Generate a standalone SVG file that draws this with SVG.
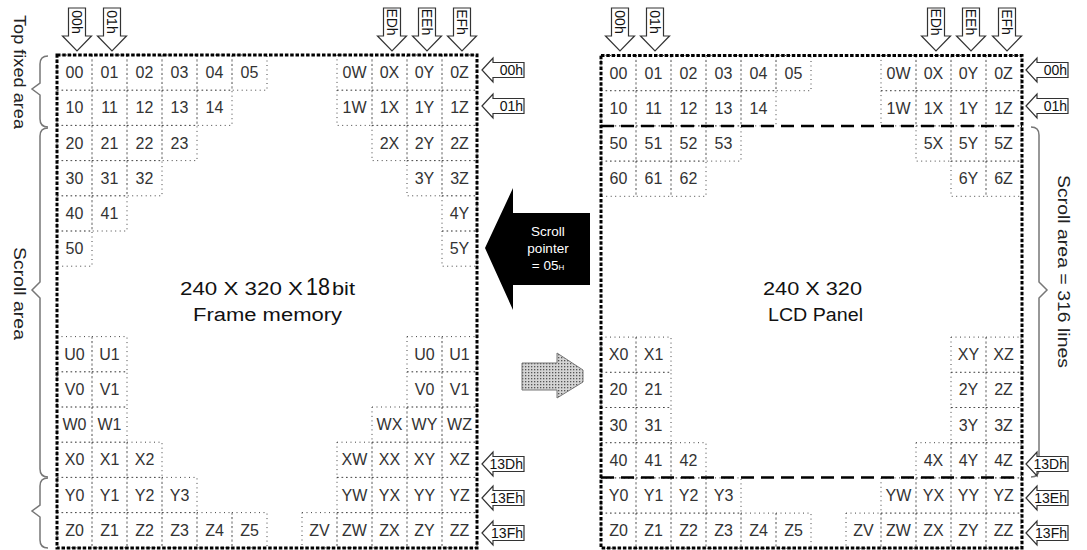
<svg xmlns="http://www.w3.org/2000/svg" width="1087" height="550" viewBox="0 0 1087 550">
<defs>
<style>
text{font-family:"Liberation Sans",Arial,sans-serif}
.c{width:35px;height:35.2px;fill:none;stroke:#444;stroke-width:1;stroke-dasharray:1 3.5}
.ct{font-size:16px;fill:#333;text-anchor:middle}
.frame{fill:none;stroke:#000;stroke-width:3;stroke-dasharray:3.5 1.8}
.dash{fill:none;stroke:#000;stroke-width:2.5;stroke-dasharray:13 7}
.brace{fill:none;stroke:#777;stroke-width:1.5}
.lbl{font-size:17px;fill:#222}
.arr{fill:#fff;stroke:#333;stroke-width:1.2}
.at{font-size:14px;fill:#111}
.big{font-size:18px;fill:#111}
.sp{font-size:13.5px;fill:#fff;text-anchor:middle}
</style>
<path id="down" class="arr" d="M-8.5,8 H8.5 V36 H14.5 L0,51 L-14.5,36 H-8.5 Z"/>
<path id="left" class="arr" d="M0,0 L11,-12 V-7.5 H42 V7.5 H11 V12 Z"/>
<pattern id="stipple" width="3" height="3" patternUnits="userSpaceOnUse">
<rect width="3" height="3" fill="#d4d4d4"/>
<rect width="1.3" height="1.3" fill="#555"/>
</pattern>
</defs>
<rect width="1087" height="550" fill="#fff"/>

<g id="braces">
<path class="brace" d="M48,56 Q40,56 40,64 L40,83 L32,89 L40,95 L40,119 Q40,127 48,127"/>
<path class="brace" d="M48,128 Q40,128 40,136 L40,282 L32,290 L40,298 L40,469 Q40,477 48,477"/>
<path class="brace" d="M48,478 Q40,478 40,486 L40,505 L32,511 L40,517 L40,540 Q40,548 48,548"/>
<path class="brace" d="M1031,127 Q1039,127 1039,135 L1039,282 L1047,290 L1039,298 L1039,469 Q1039,477 1031,477"/>
<text class="lbl" transform="translate(14,15) rotate(90)" textLength="114" lengthAdjust="spacingAndGlyphs">Top fixed area</text>
<text class="lbl" transform="translate(14,247) rotate(90)" textLength="93" lengthAdjust="spacingAndGlyphs">Scroll area</text>
<text class="lbl" transform="translate(1058,175) rotate(90)" textLength="193" lengthAdjust="spacingAndGlyphs">Scroll area = 316 lines</text>
</g>

<g id="frame-memory">
<g transform="translate(57,55)">
<rect class="c" x="0" y="0"/><text class="ct" x="17.5" y="23.1">00</text>
<rect class="c" x="35" y="0"/><text class="ct" x="52.5" y="23.1">01</text>
<rect class="c" x="70" y="0"/><text class="ct" x="87.5" y="23.1">02</text>
<rect class="c" x="105" y="0"/><text class="ct" x="122.5" y="23.1">03</text>
<rect class="c" x="140" y="0"/><text class="ct" x="157.5" y="23.1">04</text>
<rect class="c" x="175" y="0"/><text class="ct" x="192.5" y="23.1">05</text>
<rect class="c" x="280" y="0"/><text class="ct" x="297.5" y="23.1">0W</text>
<rect class="c" x="315" y="0"/><text class="ct" x="332.5" y="23.1">0X</text>
<rect class="c" x="350" y="0"/><text class="ct" x="367.5" y="23.1">0Y</text>
<rect class="c" x="385" y="0"/><text class="ct" x="402.5" y="23.1">0Z</text>

<rect class="c" x="0" y="35.2"/><text class="ct" x="17.5" y="58.3">10</text>
<rect class="c" x="35" y="35.2"/><text class="ct" x="52.5" y="58.3">11</text>
<rect class="c" x="70" y="35.2"/><text class="ct" x="87.5" y="58.3">12</text>
<rect class="c" x="105" y="35.2"/><text class="ct" x="122.5" y="58.3">13</text>
<rect class="c" x="140" y="35.2"/><text class="ct" x="157.5" y="58.3">14</text>
<rect class="c" x="280" y="35.2"/><text class="ct" x="297.5" y="58.3">1W</text>
<rect class="c" x="315" y="35.2"/><text class="ct" x="332.5" y="58.3">1X</text>
<rect class="c" x="350" y="35.2"/><text class="ct" x="367.5" y="58.3">1Y</text>
<rect class="c" x="385" y="35.2"/><text class="ct" x="402.5" y="58.3">1Z</text>

<rect class="c" x="0" y="70.4"/><text class="ct" x="17.5" y="93.5">20</text>
<rect class="c" x="35" y="70.4"/><text class="ct" x="52.5" y="93.5">21</text>
<rect class="c" x="70" y="70.4"/><text class="ct" x="87.5" y="93.5">22</text>
<rect class="c" x="105" y="70.4"/><text class="ct" x="122.5" y="93.5">23</text>
<rect class="c" x="315" y="70.4"/><text class="ct" x="332.5" y="93.5">2X</text>
<rect class="c" x="350" y="70.4"/><text class="ct" x="367.5" y="93.5">2Y</text>
<rect class="c" x="385" y="70.4"/><text class="ct" x="402.5" y="93.5">2Z</text>

<rect class="c" x="0" y="105.6"/><text class="ct" x="17.5" y="128.7">30</text>
<rect class="c" x="35" y="105.6"/><text class="ct" x="52.5" y="128.7">31</text>
<rect class="c" x="70" y="105.6"/><text class="ct" x="87.5" y="128.7">32</text>
<rect class="c" x="350" y="105.6"/><text class="ct" x="367.5" y="128.7">3Y</text>
<rect class="c" x="385" y="105.6"/><text class="ct" x="402.5" y="128.7">3Z</text>

<rect class="c" x="0" y="140.8"/><text class="ct" x="17.5" y="163.9">40</text>
<rect class="c" x="35" y="140.8"/><text class="ct" x="52.5" y="163.9">41</text>
<rect class="c" x="385" y="140.8"/><text class="ct" x="402.5" y="163.9">4Y</text>

<rect class="c" x="0" y="176"/><text class="ct" x="17.5" y="199.1">50</text>
<rect class="c" x="385" y="176"/><text class="ct" x="402.5" y="199.1">5Y</text>

<rect class="c" x="0" y="281.6"/><text class="ct" x="17.5" y="304.7">U0</text>
<rect class="c" x="35" y="281.6"/><text class="ct" x="52.5" y="304.7">U1</text>
<rect class="c" x="350" y="281.6"/><text class="ct" x="367.5" y="304.7">U0</text>
<rect class="c" x="385" y="281.6"/><text class="ct" x="402.5" y="304.7">U1</text>

<rect class="c" x="0" y="316.8"/><text class="ct" x="17.5" y="339.9">V0</text>
<rect class="c" x="35" y="316.8"/><text class="ct" x="52.5" y="339.9">V1</text>
<rect class="c" x="350" y="316.8"/><text class="ct" x="367.5" y="339.9">V0</text>
<rect class="c" x="385" y="316.8"/><text class="ct" x="402.5" y="339.9">V1</text>

<rect class="c" x="0" y="352"/><text class="ct" x="17.5" y="375.1">W0</text>
<rect class="c" x="35" y="352"/><text class="ct" x="52.5" y="375.1">W1</text>
<rect class="c" x="315" y="352"/><text class="ct" x="332.5" y="375.1">WX</text>
<rect class="c" x="350" y="352"/><text class="ct" x="367.5" y="375.1">WY</text>
<rect class="c" x="385" y="352"/><text class="ct" x="402.5" y="375.1">WZ</text>

<rect class="c" x="0" y="387.2"/><text class="ct" x="17.5" y="410.3">X0</text>
<rect class="c" x="35" y="387.2"/><text class="ct" x="52.5" y="410.3">X1</text>
<rect class="c" x="70" y="387.2"/><text class="ct" x="87.5" y="410.3">X2</text>
<rect class="c" x="280" y="387.2"/><text class="ct" x="297.5" y="410.3">XW</text>
<rect class="c" x="315" y="387.2"/><text class="ct" x="332.5" y="410.3">XX</text>
<rect class="c" x="350" y="387.2"/><text class="ct" x="367.5" y="410.3">XY</text>
<rect class="c" x="385" y="387.2"/><text class="ct" x="402.5" y="410.3">XZ</text>

<rect class="c" x="0" y="422.4"/><text class="ct" x="17.5" y="445.5">Y0</text>
<rect class="c" x="35" y="422.4"/><text class="ct" x="52.5" y="445.5">Y1</text>
<rect class="c" x="70" y="422.4"/><text class="ct" x="87.5" y="445.5">Y2</text>
<rect class="c" x="105" y="422.4"/><text class="ct" x="122.5" y="445.5">Y3</text>
<rect class="c" x="280" y="422.4"/><text class="ct" x="297.5" y="445.5">YW</text>
<rect class="c" x="315" y="422.4"/><text class="ct" x="332.5" y="445.5">YX</text>
<rect class="c" x="350" y="422.4"/><text class="ct" x="367.5" y="445.5">YY</text>
<rect class="c" x="385" y="422.4"/><text class="ct" x="402.5" y="445.5">YZ</text>

<rect class="c" x="0" y="457.6"/><text class="ct" x="17.5" y="480.7">Z0</text>
<rect class="c" x="35" y="457.6"/><text class="ct" x="52.5" y="480.7">Z1</text>
<rect class="c" x="70" y="457.6"/><text class="ct" x="87.5" y="480.7">Z2</text>
<rect class="c" x="105" y="457.6"/><text class="ct" x="122.5" y="480.7">Z3</text>
<rect class="c" x="140" y="457.6"/><text class="ct" x="157.5" y="480.7">Z4</text>
<rect class="c" x="175" y="457.6"/><text class="ct" x="192.5" y="480.7">Z5</text>
<rect class="c" x="245" y="457.6"/><text class="ct" x="262.5" y="480.7">ZV</text>
<rect class="c" x="280" y="457.6"/><text class="ct" x="297.5" y="480.7">ZW</text>
<rect class="c" x="315" y="457.6"/><text class="ct" x="332.5" y="480.7">ZX</text>
<rect class="c" x="350" y="457.6"/><text class="ct" x="367.5" y="480.7">ZY</text>
<rect class="c" x="385" y="457.6"/><text class="ct" x="402.5" y="480.7">ZZ</text>
</g>
<rect class="frame" x="57" y="55" width="420" height="493"/>
<text class="big" x="180" y="295" textLength="123" lengthAdjust="spacingAndGlyphs">240 X 320 X</text>
<text x="306" y="295" font-size="24" fill="#111" textLength="24" lengthAdjust="spacingAndGlyphs">18</text>
<text class="big" x="332" y="295" textLength="23" lengthAdjust="spacingAndGlyphs">bit</text>
<text class="big" x="193" y="321" textLength="149" lengthAdjust="spacingAndGlyphs">Frame memory</text>
</g>

<g id="lcd-panel">
<g transform="translate(601,55.5)">
<rect class="c" x="0" y="0"/><text class="ct" x="17.5" y="23.1">00</text>
<rect class="c" x="35" y="0"/><text class="ct" x="52.5" y="23.1">01</text>
<rect class="c" x="70" y="0"/><text class="ct" x="87.5" y="23.1">02</text>
<rect class="c" x="105" y="0"/><text class="ct" x="122.5" y="23.1">03</text>
<rect class="c" x="140" y="0"/><text class="ct" x="157.5" y="23.1">04</text>
<rect class="c" x="175" y="0"/><text class="ct" x="192.5" y="23.1">05</text>
<rect class="c" x="280" y="0"/><text class="ct" x="297.5" y="23.1">0W</text>
<rect class="c" x="315" y="0"/><text class="ct" x="332.5" y="23.1">0X</text>
<rect class="c" x="350" y="0"/><text class="ct" x="367.5" y="23.1">0Y</text>
<rect class="c" x="385" y="0"/><text class="ct" x="402.5" y="23.1">0Z</text>

<rect class="c" x="0" y="35.2"/><text class="ct" x="17.5" y="58.3">10</text>
<rect class="c" x="35" y="35.2"/><text class="ct" x="52.5" y="58.3">11</text>
<rect class="c" x="70" y="35.2"/><text class="ct" x="87.5" y="58.3">12</text>
<rect class="c" x="105" y="35.2"/><text class="ct" x="122.5" y="58.3">13</text>
<rect class="c" x="140" y="35.2"/><text class="ct" x="157.5" y="58.3">14</text>
<rect class="c" x="280" y="35.2"/><text class="ct" x="297.5" y="58.3">1W</text>
<rect class="c" x="315" y="35.2"/><text class="ct" x="332.5" y="58.3">1X</text>
<rect class="c" x="350" y="35.2"/><text class="ct" x="367.5" y="58.3">1Y</text>
<rect class="c" x="385" y="35.2"/><text class="ct" x="402.5" y="58.3">1Z</text>

<rect class="c" x="0" y="70.4"/><text class="ct" x="17.5" y="93.5">50</text>
<rect class="c" x="35" y="70.4"/><text class="ct" x="52.5" y="93.5">51</text>
<rect class="c" x="70" y="70.4"/><text class="ct" x="87.5" y="93.5">52</text>
<rect class="c" x="105" y="70.4"/><text class="ct" x="122.5" y="93.5">53</text>
<rect class="c" x="315" y="70.4"/><text class="ct" x="332.5" y="93.5">5X</text>
<rect class="c" x="350" y="70.4"/><text class="ct" x="367.5" y="93.5">5Y</text>
<rect class="c" x="385" y="70.4"/><text class="ct" x="402.5" y="93.5">5Z</text>

<rect class="c" x="0" y="105.6"/><text class="ct" x="17.5" y="128.7">60</text>
<rect class="c" x="35" y="105.6"/><text class="ct" x="52.5" y="128.7">61</text>
<rect class="c" x="70" y="105.6"/><text class="ct" x="87.5" y="128.7">62</text>
<rect class="c" x="350" y="105.6"/><text class="ct" x="367.5" y="128.7">6Y</text>
<rect class="c" x="385" y="105.6"/><text class="ct" x="402.5" y="128.7">6Z</text>

<rect class="c" x="0" y="281.6"/><text class="ct" x="17.5" y="304.7">X0</text>
<rect class="c" x="35" y="281.6"/><text class="ct" x="52.5" y="304.7">X1</text>
<rect class="c" x="350" y="281.6"/><text class="ct" x="367.5" y="304.7">XY</text>
<rect class="c" x="385" y="281.6"/><text class="ct" x="402.5" y="304.7">XZ</text>

<rect class="c" x="0" y="316.8"/><text class="ct" x="17.5" y="339.9">20</text>
<rect class="c" x="35" y="316.8"/><text class="ct" x="52.5" y="339.9">21</text>
<rect class="c" x="350" y="316.8"/><text class="ct" x="367.5" y="339.9">2Y</text>
<rect class="c" x="385" y="316.8"/><text class="ct" x="402.5" y="339.9">2Z</text>

<rect class="c" x="0" y="352"/><text class="ct" x="17.5" y="375.1">30</text>
<rect class="c" x="35" y="352"/><text class="ct" x="52.5" y="375.1">31</text>
<rect class="c" x="350" y="352"/><text class="ct" x="367.5" y="375.1">3Y</text>
<rect class="c" x="385" y="352"/><text class="ct" x="402.5" y="375.1">3Z</text>

<rect class="c" x="0" y="387.2"/><text class="ct" x="17.5" y="410.3">40</text>
<rect class="c" x="35" y="387.2"/><text class="ct" x="52.5" y="410.3">41</text>
<rect class="c" x="70" y="387.2"/><text class="ct" x="87.5" y="410.3">42</text>
<rect class="c" x="315" y="387.2"/><text class="ct" x="332.5" y="410.3">4X</text>
<rect class="c" x="350" y="387.2"/><text class="ct" x="367.5" y="410.3">4Y</text>
<rect class="c" x="385" y="387.2"/><text class="ct" x="402.5" y="410.3">4Z</text>

<rect class="c" x="0" y="422.4"/><text class="ct" x="17.5" y="445.5">Y0</text>
<rect class="c" x="35" y="422.4"/><text class="ct" x="52.5" y="445.5">Y1</text>
<rect class="c" x="70" y="422.4"/><text class="ct" x="87.5" y="445.5">Y2</text>
<rect class="c" x="105" y="422.4"/><text class="ct" x="122.5" y="445.5">Y3</text>
<rect class="c" x="280" y="422.4"/><text class="ct" x="297.5" y="445.5">YW</text>
<rect class="c" x="315" y="422.4"/><text class="ct" x="332.5" y="445.5">YX</text>
<rect class="c" x="350" y="422.4"/><text class="ct" x="367.5" y="445.5">YY</text>
<rect class="c" x="385" y="422.4"/><text class="ct" x="402.5" y="445.5">YZ</text>

<rect class="c" x="0" y="457.6"/><text class="ct" x="17.5" y="480.7">Z0</text>
<rect class="c" x="35" y="457.6"/><text class="ct" x="52.5" y="480.7">Z1</text>
<rect class="c" x="70" y="457.6"/><text class="ct" x="87.5" y="480.7">Z2</text>
<rect class="c" x="105" y="457.6"/><text class="ct" x="122.5" y="480.7">Z3</text>
<rect class="c" x="140" y="457.6"/><text class="ct" x="157.5" y="480.7">Z4</text>
<rect class="c" x="175" y="457.6"/><text class="ct" x="192.5" y="480.7">Z5</text>
<rect class="c" x="245" y="457.6"/><text class="ct" x="262.5" y="480.7">ZV</text>
<rect class="c" x="280" y="457.6"/><text class="ct" x="297.5" y="480.7">ZW</text>
<rect class="c" x="315" y="457.6"/><text class="ct" x="332.5" y="480.7">ZX</text>
<rect class="c" x="350" y="457.6"/><text class="ct" x="367.5" y="480.7">ZY</text>
<rect class="c" x="385" y="457.6"/><text class="ct" x="402.5" y="480.7">ZZ</text>
</g>
<line class="dash" x1="601" y1="126" x2="1022" y2="126"/>
<line class="dash" x1="601" y1="477.4" x2="1022" y2="477.4"/>
<rect class="frame" x="601" y="55.5" width="421" height="492.5"/>
<text class="big" x="763" y="295" textLength="99" lengthAdjust="spacingAndGlyphs">240 X 320</text>
<text class="big" x="768" y="321" textLength="95" lengthAdjust="spacingAndGlyphs">LCD Panel</text>
</g>

<g id="address-markers">
<g transform="translate(77,0)"><use href="#down"/><text class="at" transform="translate(-5,22) rotate(90)" text-anchor="middle">00h</text></g>
<g transform="translate(112,0)"><use href="#down"/><text class="at" transform="translate(-5,22) rotate(90)" text-anchor="middle">01h</text></g>
<g transform="translate(392,0)"><use href="#down"/><text class="at" transform="translate(-5,22) rotate(90)" text-anchor="middle">EDh</text></g>
<g transform="translate(427,0)"><use href="#down"/><text class="at" transform="translate(-5,22) rotate(90)" text-anchor="middle">EEh</text></g>
<g transform="translate(462,0)"><use href="#down"/><text class="at" transform="translate(-5,22) rotate(90)" text-anchor="middle">EFh</text></g>
<g transform="translate(620,0)"><use href="#down"/><text class="at" transform="translate(-5,22) rotate(90)" text-anchor="middle">00h</text></g>
<g transform="translate(655,0)"><use href="#down"/><text class="at" transform="translate(-5,22) rotate(90)" text-anchor="middle">01h</text></g>
<g transform="translate(936,0)"><use href="#down"/><text class="at" transform="translate(-5,22) rotate(90)" text-anchor="middle">EDh</text></g>
<g transform="translate(971,0)"><use href="#down"/><text class="at" transform="translate(-5,22) rotate(90)" text-anchor="middle">EEh</text></g>
<g transform="translate(1007,0)"><use href="#down"/><text class="at" transform="translate(-5,22) rotate(90)" text-anchor="middle">EFh</text></g>

<g transform="translate(482,70)"><use href="#left"/><text class="at" x="41" y="5" text-anchor="end">00h</text></g>
<g transform="translate(482,106)"><use href="#left"/><text class="at" x="41" y="5" text-anchor="end">01h</text></g>
<g transform="translate(482,464)"><use href="#left"/><text class="at" x="41" y="5" text-anchor="end">13Dh</text></g>
<g transform="translate(482,498)"><use href="#left"/><text class="at" x="41" y="5" text-anchor="end">13Eh</text></g>
<g transform="translate(482,533)"><use href="#left"/><text class="at" x="41" y="5" text-anchor="end">13Fh</text></g>
<g transform="translate(1026,70)"><use href="#left"/><text class="at" x="41" y="5" text-anchor="end">00h</text></g>
<g transform="translate(1026,106)"><use href="#left"/><text class="at" x="41" y="5" text-anchor="end">01h</text></g>
<g transform="translate(1026,464)"><use href="#left"/><text class="at" x="41" y="5" text-anchor="end">13Dh</text></g>
<g transform="translate(1026,498)"><use href="#left"/><text class="at" x="41" y="5" text-anchor="end">13Eh</text></g>
<g transform="translate(1026,533)"><use href="#left"/><text class="at" x="41" y="5" text-anchor="end">13Fh</text></g>
</g>

<g id="connectors">
<g id="scroll-pointer">
<polygon points="485,248 513,188 513,213 590,213 590,285 513,285 513,310" fill="#000"/>
<text class="sp" x="548" y="236">Scroll</text>
<text class="sp" x="548" y="253">pointer</text>
<text class="sp" x="548" y="270">= 05<tspan font-size="8">H</tspan></text>
</g>
<g id="transfer-arrow">
<polygon points="522,363 557,363 557,353 583,370 583,382 557,398 557,390 522,390" fill="url(#stipple)" stroke="#777" stroke-width="1"/>
</g>
</g>
</svg>
